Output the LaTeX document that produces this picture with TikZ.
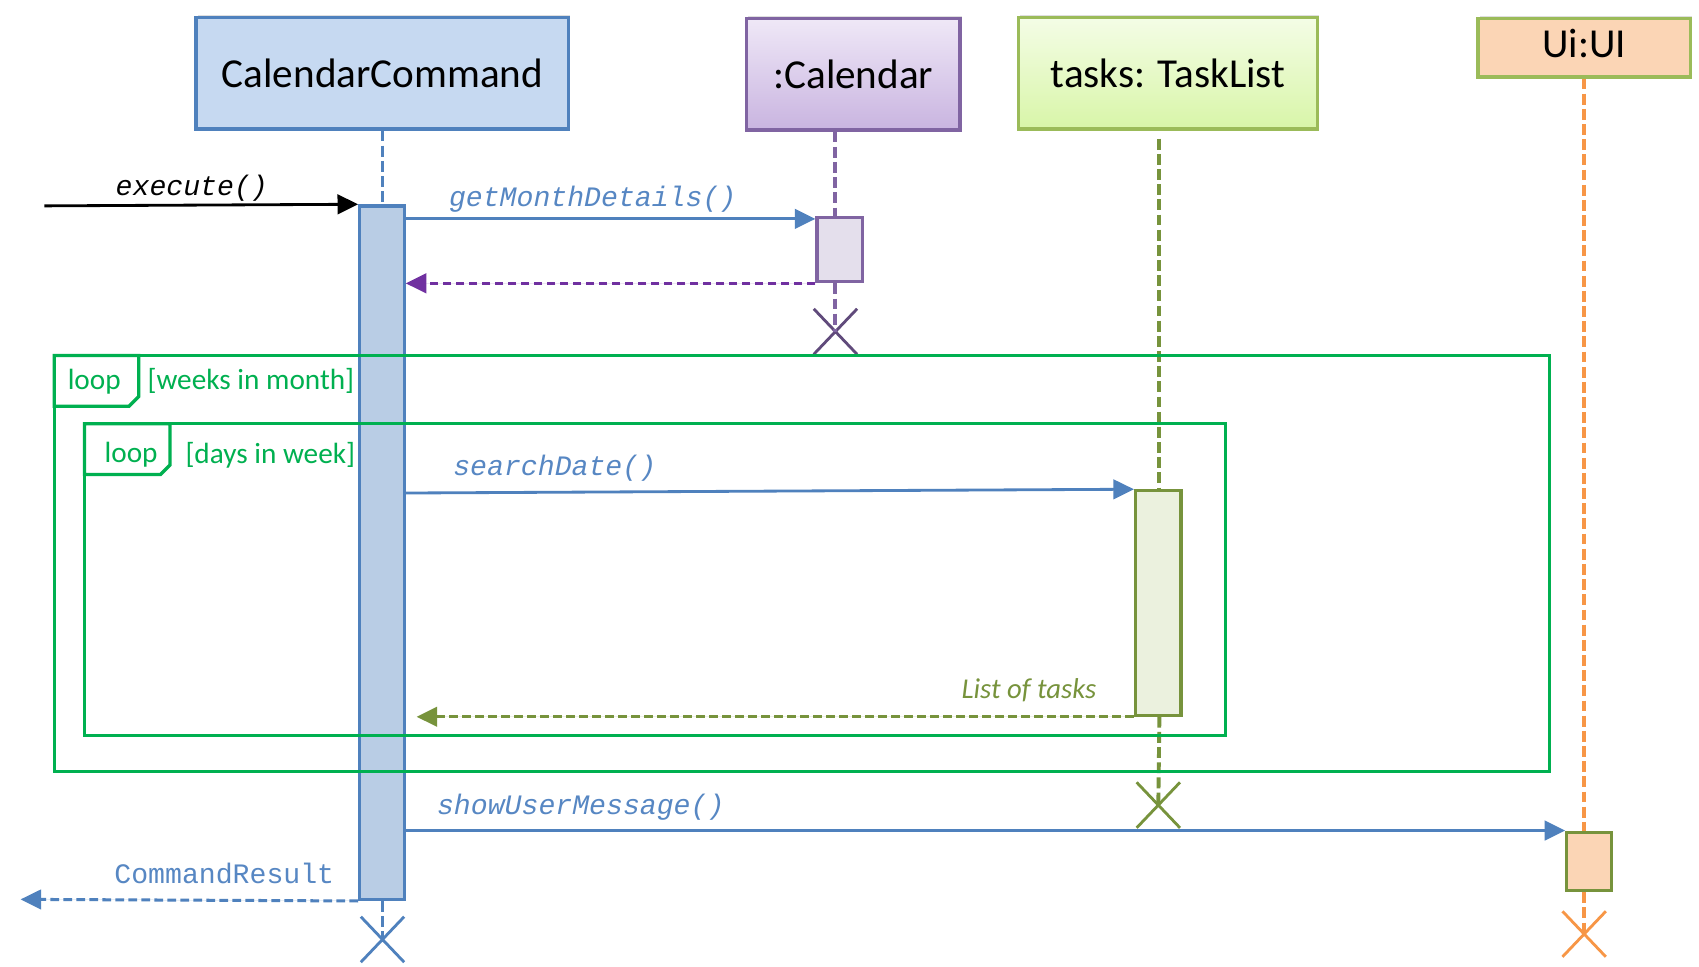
\documentclass[tikz,border=0pt]{standalone}
\usepackage{fontspec}
\setmainfont{Carlito}
\newfontfamily\codefont{Liberation Mono}
\usetikzlibrary{arrows.meta,shadows,shapes.misc}

\definecolor{ccblue}{HTML}{4F81BD}
\definecolor{cctext}{HTML}{5787C3}
\definecolor{ccfill}{HTML}{C6D9F1}
\definecolor{ccact}{HTML}{B9CDE5}
\definecolor{calline}{HTML}{8064A2}
\definecolor{caldark}{HTML}{604A7B}
\definecolor{calret}{HTML}{7030A0}
\definecolor{calact}{HTML}{E4DFEC}
\definecolor{calTop}{HTML}{EFE8F7}
\definecolor{calBot}{HTML}{C9B4E0}
\definecolor{tlline}{HTML}{9BBB59}
\definecolor{tldark}{HTML}{77933C}
\definecolor{tlact}{HTML}{EBF1DE}
\definecolor{tlTop}{HTML}{F4FDE6}
\definecolor{tlBot}{HTML}{D8F5A8}
\definecolor{uifill}{HTML}{FBD5B5}
\definecolor{uiline}{HTML}{F79646}
\definecolor{loopgreen}{HTML}{00B050}

\tikzset{
  head/.style={rectangle, line width=3pt, inner sep=0pt,
    font=\fontsize{38}{40}\selectfont,
    drop shadow={shadow xshift=1.5pt, shadow yshift=2.5pt, opacity=0.25}},
  headtext/.style={font=\fontsize{38}{40}\selectfont, inner sep=0pt},
  life/.style={line width=3.6pt, dash pattern=on 10pt off 4pt},
  actbar/.style={rectangle, line width=3pt, inner sep=0pt},
  msg/.style={line width=2.6pt, draw=ccblue,
    -{Triangle[length=19pt,width=18pt]}},
  ret/.style={line width=2.8pt, dash pattern=on 8pt off 4pt,
    -{Triangle[length=19pt,width=18pt]}},
  code/.style={font=\codefont\itshape\fontsize{26}{28}\selectfont, text=cctext, inner sep=0pt},
  destroy/.style={cross out, draw, line width=2.6pt, minimum width=40pt,
    minimum height=42pt, inner sep=0pt, outer sep=0pt},
  frameline/.style={draw=loopgreen, line width=3pt},
  guard/.style={font=\fontsize{27}{29}\selectfont, text=loopgreen, inner sep=0pt},
}

\begin{document}
\begin{tikzpicture}[x=1pt,y=-1pt]
\useasboundingbox[fill=white] (0,0) rectangle (1568,892);

% participant headers
\node[head, fill=ccfill, draw=ccblue, minimum width=344pt, minimum height=103pt]
  (cc) at (353,67.5) {CalendarCommand};
\node[head, top color=calTop, bottom color=calBot, draw=calline,
  minimum width=197pt, minimum height=103pt] (cal) at (787.5,68.5) {:Calendar};
\node[head, top color=tlTop, bottom color=tlBot, draw=tlline,
  minimum width=276pt, minimum height=103pt] (tl) at (1078,67.5) {tasks: TaskList};
\node[head, fill=uifill, draw=tlline, minimum width=196pt, minimum height=54pt]
  (ui) at (1462,44) {};
\node[headtext] (uitext) at (1462,40) {Ui:UI};

% activation bars
\node[actbar, fill=ccact, draw=ccblue, minimum width=41pt, minimum height=640pt]
  (ccbar) at (352.5,510) {};
\node[actbar, fill=calact, draw=calline, minimum width=42pt, minimum height=59pt]
  (calbar) at (775,230.5) {};
\node[actbar, fill=tlact, draw=tldark, minimum width=42pt, minimum height=207pt]
  (tlbar) at (1069,556.5) {};
\node[actbar, fill=uifill, draw=tldark, minimum width=41pt, minimum height=54pt]
  (uibar) at (1466.5,795) {};

% destruction marks
\node[destroy, draw=caldark] (calx) at (771,306) {};
\node[destroy, draw=tldark] (tlx) at (1069,743) {};
\node[destroy, draw=ccblue] (ccx) at (353,867) {};
\node[destroy, draw=uiline] (uix) at (1462,862) {};

% lifelines
\coordinate (tltop) at (1070,128);
\draw[life, draw=ccblue] (cc.south) -- (cc.south |- ccbar.north);
\draw[life, draw=ccblue] (ccx.center |- ccbar.south) -- (ccx.center);
\draw[life, draw=calline] (calx.center |- cal.south) -- (calx.center |- calbar.north);
\draw[life, draw=calline] (calx.center |- calbar.south) -- (calx.center);
\draw[life, draw=tldark] (tltop) -- (tltop |- tlbar.north);
\draw[life, draw=tldark] (tltop |- tlbar.south) -- (tlx.center);
\draw[life, draw=uiline] (ui.south) -- (ui.south |- uibar.north);
\draw[life, draw=uiline] (uix.center |- uibar.south) -- (uix.center);

% bars drawn again on top of the lifelines
\node[actbar, fill=calact, draw=calline, minimum width=42pt, minimum height=59pt] at (calbar) {};
\node[actbar, fill=tlact, draw=tldark, minimum width=42pt, minimum height=207pt] at (tlbar) {};
\node[actbar, fill=uifill, draw=tldark, minimum width=41pt, minimum height=54pt] at (uibar) {};

% combined fragments: loops
\draw[frameline] (50,328) rectangle (1430,712);
\draw[frameline] (50,328) -- (128,328) -- (128,366) -- (119,375) -- (50,375) -- cycle;
\node[guard] (outerop) at (87,352) {loop};
\node[guard, anchor=west] (outerg) at (136,352) {[weeks in month]};

\draw[frameline] (78,391) rectangle (1131,679);
\draw[frameline] (78,391) -- (157,391) -- (157,429) -- (148,438) -- (78,438) -- cycle;
\node[guard] (innerop) at (121,420) {loop};
\node[guard, anchor=west] (innerg) at (171,420) {[days in week]};

% messages
\coordinate (exs) at (41,190);
\draw[msg, draw=black] (exs) -- (ccbar.north west);
\node[code, text=black] (exl) at (177,174) {execute()};

\draw[msg] (ccbar.east |- 0,202) -- (calbar.west |- 0,202);
\node[code] (gml) at (547,184) {getMonthDetails()};

\draw[ret, draw=calret, fill=calret] (calbar.south west) -- (ccbar.east |- calbar.south);

\draw[msg] (ccbar.east |- 0,455) -- (tlbar.north west);
\node[code] (sdl) at (512,432) {searchDate()};

\draw[ret, draw=tldark, fill=tldark, shorten >=10pt] (tlbar.south west) -- (ccbar.east |- tlbar.south);
\node[guard, anchor=east, text=tldark, font=\itshape\fontsize{26.5}{28}\selectfont]
  (lotl) at (1012,637) {List of tasks};

\draw[msg] (ccbar.east |- uibar.north) -- (uibar.north west);
\node[code] (suml) at (536,745) {showUserMessage()};

\coordinate (cre) at (19,830);
\draw[ret, draw=ccblue, fill=ccblue] (ccbar.south west) -- (cre);
\node[code, font=\codefont\fontsize{26}{28}\selectfont] (crl) at (207,806) {CommandResult};

\end{tikzpicture}
\end{document}
